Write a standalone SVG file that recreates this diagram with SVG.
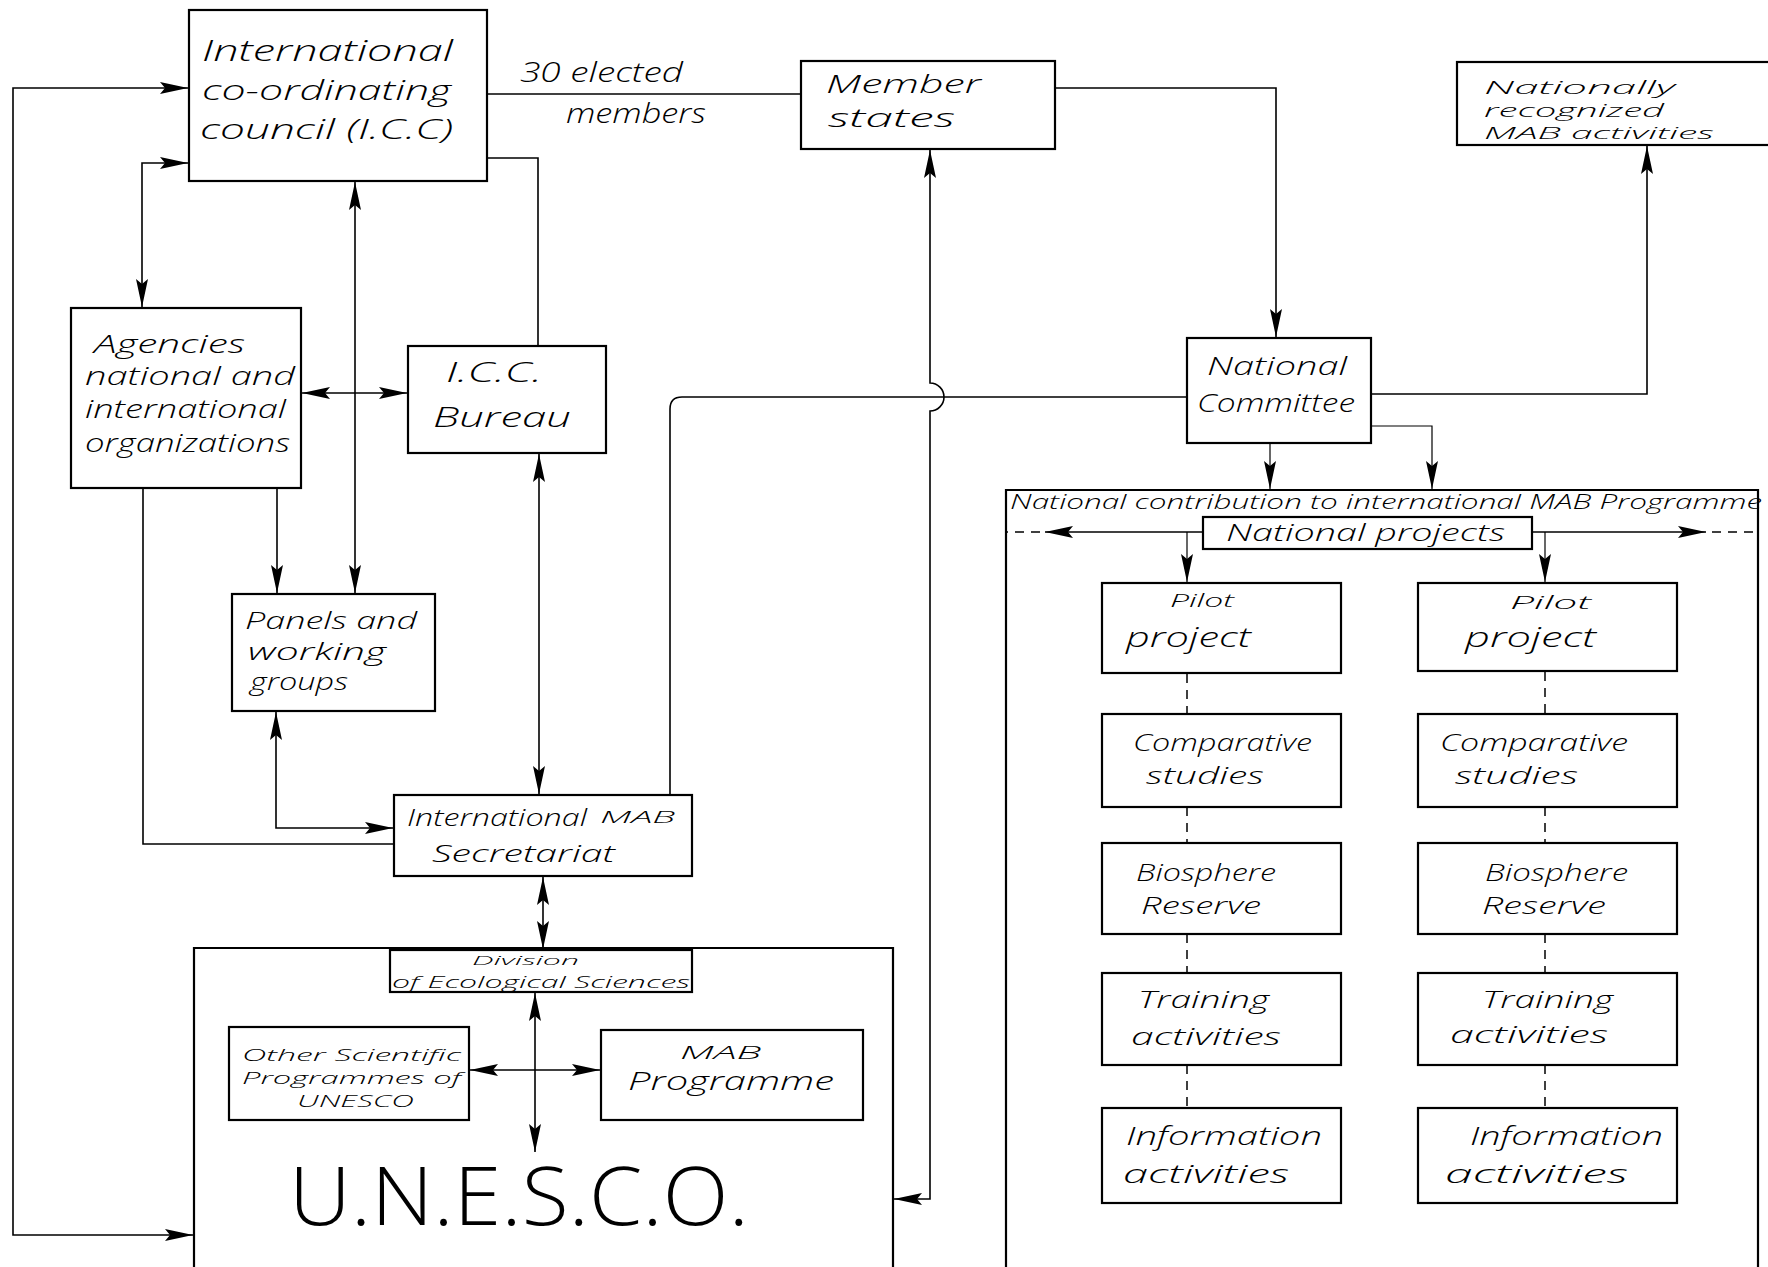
<svg xmlns="http://www.w3.org/2000/svg" width="1768" height="1267" viewBox="0 0 1768 1267">
<defs>
<marker id="ah" viewBox="0 0 28 12" refX="28" refY="6" markerWidth="28" markerHeight="12" markerUnits="userSpaceOnUse" orient="auto-start-reverse"><path d="M0,0 L28,6 L0,12 L5,6 z" fill="#000"/></marker>
<style>
.box{fill:#fff;stroke:#000;stroke-width:2.2}
.frame{fill:none;stroke:#000;stroke-width:2.2}
.ln{fill:none;stroke:#000;stroke-width:1.6}
.dash{fill:none;stroke:#000;stroke-width:1.5;stroke-dasharray:9 7}
.thin{fill:none;stroke:#000;stroke-width:1.2}
.hw{font-family:"Open Sans","Liberation Sans",sans-serif;font-weight:300;font-style:italic;fill:#000}
.big{font-family:"Open Sans","Liberation Sans",sans-serif;font-weight:300;fill:#000}
</style>
</defs>
<rect width="1768" height="1267" fill="#fff"/>

<g id="unesco-frame"><path class="frame" d="M194,1270 V948 H893 V1270"/></g>
<g id="national-contribution-frame"><path class="frame" d="M1006,1270 V490 H1758 V1270"/></g>

<g id="connectors">
<path class="ln" d="M188,88 H13 V1235 H193" marker-start="url(#ah)" marker-end="url(#ah)"/>
<path class="ln" d="M188,163 H142 V307" marker-start="url(#ah)" marker-end="url(#ah)"/>
<path class="ln" d="M355,182 V593" marker-start="url(#ah)" marker-end="url(#ah)"/>
<path class="ln" d="M302,393 H407" marker-start="url(#ah)" marker-end="url(#ah)"/>
<path class="ln" d="M277,489 V593" marker-end="url(#ah)"/>
<path class="ln" d="M488,158 H538 V346"/>
<path class="ln" d="M539,454 V794" marker-start="url(#ah)" marker-end="url(#ah)"/>
<path class="ln" d="M276,712 V828 H393" marker-start="url(#ah)" marker-end="url(#ah)"/>
<path class="ln" d="M143,489 V844 H394"/>
<path class="ln" d="M543,877 V949" marker-start="url(#ah)" marker-end="url(#ah)"/>
<path class="ln" d="M535,993 V1152" marker-start="url(#ah)" marker-end="url(#ah)"/>
<path class="ln" d="M470,1070 H600" marker-start="url(#ah)" marker-end="url(#ah)"/>
<path class="ln" d="M488,94 H801"/>
<path class="ln" d="M1055,88 H1276 V337" marker-end="url(#ah)"/>
<path class="ln" d="M1371,394 H1647 V146" marker-end="url(#ah)"/>
<path class="ln" d="M1187,397 H682 Q670,397 670,409 V795"/>
<path class="ln" d="M894,1199 H930 V411 A14,14 0 0 0 930,383 V150" marker-start="url(#ah)" marker-end="url(#ah)"/>
<path class="thin" d="M1270,444 V489" marker-end="url(#ah)"/>
<path class="thin" d="M1372,426 H1432 V489" marker-end="url(#ah)"/>
<path class="ln" d="M1203,532 H1045" marker-end="url(#ah)"/>
<path class="dash" d="M1040,532 H1006"/>
<path class="ln" d="M1532,532 H1706" marker-end="url(#ah)"/>
<path class="dash" d="M1712,532 H1757"/>
<path class="thin" d="M1187,532 V582" marker-end="url(#ah)"/>
<path class="thin" d="M1545,532 V582" marker-end="url(#ah)"/>
<path class="dash" d="M1187,674 V714 M1187,807 V843 M1187,934 V973 M1187,1065 V1108"/>
<path class="dash" d="M1545,672 V714 M1545,807 V843 M1545,934 V973 M1545,1065 V1108"/>
</g>

<g id="icc"><rect class="box" x="189" y="10" width="298" height="171"/>
<text class="hw" font-size="29" x="202" y="61" textLength="251" lengthAdjust="spacingAndGlyphs">International</text>
<text class="hw" font-size="28" x="202" y="100" textLength="249" lengthAdjust="spacingAndGlyphs">co-ordinating</text>
<text class="hw" font-size="28" x="200" y="139" textLength="253" lengthAdjust="spacingAndGlyphs">council (I.C.C)</text></g>

<g id="label-elected">
<text class="hw" font-size="28" x="520" y="82" textLength="163" lengthAdjust="spacingAndGlyphs">30 elected</text>
<text class="hw" font-size="27" x="566" y="123" textLength="140" lengthAdjust="spacingAndGlyphs">members</text></g>

<g id="member-states"><rect class="box" x="801" y="61" width="254" height="88"/>
<text class="hw" font-size="26" x="826" y="93" textLength="155" lengthAdjust="spacingAndGlyphs">Member</text>
<text class="hw" font-size="26" x="828" y="127" textLength="127" lengthAdjust="spacingAndGlyphs">states</text></g>

<g id="nationally-recognized"><rect class="box" x="1457" y="62" width="320" height="83"/>
<text class="hw" font-size="18" x="1484" y="94" textLength="191" lengthAdjust="spacingAndGlyphs">Nationally</text>
<text class="hw" font-size="18" x="1484" y="117" textLength="180" lengthAdjust="spacingAndGlyphs">recognized</text>
<text class="hw" font-size="17" x="1484" y="139" textLength="230" lengthAdjust="spacingAndGlyphs">MAB activities</text></g>

<g id="agencies"><rect class="box" x="71" y="308" width="230" height="180"/>
<text class="hw" font-size="26" x="94" y="353" textLength="151" lengthAdjust="spacingAndGlyphs">Agencies</text>
<text class="hw" font-size="25" x="85" y="385" textLength="210" lengthAdjust="spacingAndGlyphs">national and</text>
<text class="hw" font-size="25" x="85" y="418" textLength="201" lengthAdjust="spacingAndGlyphs">international</text>
<text class="hw" font-size="25" x="85" y="452" textLength="205" lengthAdjust="spacingAndGlyphs">organizations</text></g>

<g id="icc-bureau"><rect class="box" x="408" y="346" width="198" height="107"/>
<text class="hw" font-size="28" x="446" y="382" textLength="96" lengthAdjust="spacingAndGlyphs">I.C.C.</text>
<text class="hw" font-size="28" x="433" y="427" textLength="138" lengthAdjust="spacingAndGlyphs">Bureau</text></g>

<g id="panels"><rect class="box" x="232" y="594" width="203" height="117"/>
<text class="hw" font-size="24" x="245" y="629" textLength="172" lengthAdjust="spacingAndGlyphs">Panels and</text>
<text class="hw" font-size="24" x="248" y="660" textLength="138" lengthAdjust="spacingAndGlyphs">working</text>
<text class="hw" font-size="24" x="250" y="690" textLength="98" lengthAdjust="spacingAndGlyphs">groups</text></g>

<g id="secretariat"><rect class="box" x="394" y="795" width="298" height="81"/>
<text class="hw" font-size="24" x="407" y="826" textLength="180" lengthAdjust="spacingAndGlyphs">International</text>
<text class="hw" font-size="17" x="600" y="823" textLength="75" lengthAdjust="spacingAndGlyphs">MAB</text>
<text class="hw" font-size="24" x="432" y="862" textLength="183" lengthAdjust="spacingAndGlyphs">Secretariat</text></g>

<g id="unesco">
<text class="big" font-size="82" x="289" y="1225" textLength="460" lengthAdjust="spacingAndGlyphs">U.N.E.S.C.O.</text></g>

<g id="division"><rect class="box" x="390" y="950" width="302" height="42"/>
<text class="hw" font-size="13" x="472" y="965" textLength="107" lengthAdjust="spacingAndGlyphs">Division</text>
<text class="hw" font-size="17" x="392" y="988" textLength="298" lengthAdjust="spacingAndGlyphs">of Ecological Sciences</text></g>

<g id="other-programmes"><rect class="box" x="229" y="1027" width="240" height="93"/>
<text class="hw" font-size="17" x="242" y="1061" textLength="219" lengthAdjust="spacingAndGlyphs">Other Scientific</text>
<text class="hw" font-size="17" x="242" y="1084" textLength="219" lengthAdjust="spacingAndGlyphs">Programmes of</text>
<text class="hw" font-size="17" x="297" y="1107" textLength="117" lengthAdjust="spacingAndGlyphs">UNESCO</text></g>

<g id="mab-programme"><rect class="box" x="601" y="1030" width="262" height="90"/>
<text class="hw" font-size="18" x="680" y="1059" textLength="81" lengthAdjust="spacingAndGlyphs">MAB</text>
<text class="hw" font-size="25" x="628" y="1090" textLength="206" lengthAdjust="spacingAndGlyphs">Programme</text></g>

<g id="national-committee"><rect class="box" x="1187" y="338" width="184" height="105"/>
<text class="hw" font-size="26" x="1207" y="375" textLength="140" lengthAdjust="spacingAndGlyphs">National</text>
<text class="hw" font-size="26" x="1197" y="412" textLength="158" lengthAdjust="spacingAndGlyphs">Committee</text></g>

<g id="national-contribution">
<text class="hw" font-size="20" x="1010" y="509" textLength="752" lengthAdjust="spacingAndGlyphs">National  contribution to international  MAB Programme</text></g>

<g id="national-projects"><rect class="box" x="1203" y="517" width="329" height="32"/>
<text class="hw" font-size="24" x="1226" y="541" textLength="279" lengthAdjust="spacingAndGlyphs">National projects</text></g>

<g id="pilot-1"><rect class="box" x="1102" y="583" width="239" height="90"/>
<text class="hw" font-size="19" x="1170" y="607" textLength="64" lengthAdjust="spacingAndGlyphs">Pilot</text>
<text class="hw" font-size="27" x="1126" y="647" textLength="125" lengthAdjust="spacingAndGlyphs">project</text></g>
<g id="comparative-1"><rect class="box" x="1102" y="714" width="239" height="93"/>
<text class="hw" font-size="24" x="1133" y="751" textLength="179" lengthAdjust="spacingAndGlyphs">Comparative</text>
<text class="hw" font-size="24" x="1146" y="784" textLength="118" lengthAdjust="spacingAndGlyphs">studies</text></g>
<g id="biosphere-1"><rect class="box" x="1102" y="843" width="239" height="91"/>
<text class="hw" font-size="24" x="1136" y="881" textLength="140" lengthAdjust="spacingAndGlyphs">Biosphere</text>
<text class="hw" font-size="24" x="1141" y="914" textLength="120" lengthAdjust="spacingAndGlyphs">Reserve</text></g>
<g id="training-1"><rect class="box" x="1102" y="973" width="239" height="92"/>
<text class="hw" font-size="24" x="1138" y="1008" textLength="131" lengthAdjust="spacingAndGlyphs">Training</text>
<text class="hw" font-size="24" x="1131" y="1045" textLength="150" lengthAdjust="spacingAndGlyphs">activities</text></g>
<g id="information-1"><rect class="box" x="1102" y="1108" width="239" height="95"/>
<text class="hw" font-size="26" x="1126" y="1145" textLength="196" lengthAdjust="spacingAndGlyphs">Information</text>
<text class="hw" font-size="26" x="1123" y="1183" textLength="166" lengthAdjust="spacingAndGlyphs">activities</text></g>

<g id="pilot-2"><rect class="box" x="1418" y="583" width="259" height="88"/>
<text class="hw" font-size="19" x="1510" y="609" textLength="81" lengthAdjust="spacingAndGlyphs">Pilot</text>
<text class="hw" font-size="27" x="1465" y="647" textLength="131" lengthAdjust="spacingAndGlyphs">project</text></g>
<g id="comparative-2"><rect class="box" x="1418" y="714" width="259" height="93"/>
<text class="hw" font-size="24" x="1440" y="751" textLength="188" lengthAdjust="spacingAndGlyphs">Comparative</text>
<text class="hw" font-size="24" x="1455" y="784" textLength="123" lengthAdjust="spacingAndGlyphs">studies</text></g>
<g id="biosphere-2"><rect class="box" x="1418" y="843" width="259" height="91"/>
<text class="hw" font-size="24" x="1485" y="881" textLength="143" lengthAdjust="spacingAndGlyphs">Biosphere</text>
<text class="hw" font-size="24" x="1482" y="914" textLength="124" lengthAdjust="spacingAndGlyphs">Reserve</text></g>
<g id="training-2"><rect class="box" x="1418" y="973" width="259" height="92"/>
<text class="hw" font-size="24" x="1482" y="1008" textLength="131" lengthAdjust="spacingAndGlyphs">Training</text>
<text class="hw" font-size="24" x="1450" y="1043" textLength="158" lengthAdjust="spacingAndGlyphs">activities</text></g>
<g id="information-2"><rect class="box" x="1418" y="1108" width="259" height="95"/>
<text class="hw" font-size="26" x="1470" y="1145" textLength="193" lengthAdjust="spacingAndGlyphs">Information</text>
<text class="hw" font-size="26" x="1445" y="1183" textLength="183" lengthAdjust="spacingAndGlyphs">activities</text></g>
</svg>
